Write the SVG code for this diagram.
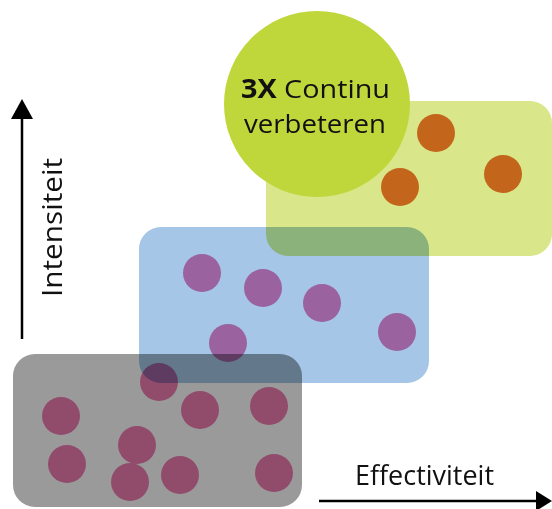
<svg xmlns="http://www.w3.org/2000/svg" width="552" height="509" viewBox="0 0 552 509">
<style>
.mul{mix-blend-mode:multiply}
.dot{fill:#f07eb1;mix-blend-mode:multiply}
.odot{fill:#c4651c}
.lbl{font-family:"Open Sans","DejaVu Sans",sans-serif;fill:#111}
.ax{stroke:#000;stroke-width:2.5;fill:none}
</style>
<defs>
<marker id="ah" markerWidth="8" markerHeight="8" refX="7" refY="4" orient="auto" markerUnits="userSpaceOnUse" viewBox="0 0 8 8">
<path d="M0,0 L8,4 L0,8 z" fill="#000"/>
</marker>
</defs>
<rect width="552" height="509" fill="#fff"/>
<g id="blue-zone">
<rect class="mul" x="139" y="227" width="290" height="156" rx="22" fill="#a5c6e6"/>
<circle class="dot" cx="202" cy="273" r="19"/>
<circle class="dot" cx="263" cy="288" r="19"/>
<circle class="dot" cx="322" cy="303" r="19"/>
<circle class="dot" cx="397" cy="332" r="19"/>
<circle class="dot" cx="228" cy="343" r="19"/>
</g>
<g id="gray-zone">
<rect class="mul" x="13" y="354" width="289" height="153" rx="22" fill="#9a9a9b"/>
<circle class="dot" cx="61" cy="416" r="19"/>
<circle class="dot" cx="67" cy="464" r="19"/>
<circle class="dot" cx="159" cy="382" r="19"/>
<circle class="dot" cx="200" cy="410" r="19"/>
<circle class="dot" cx="269" cy="406" r="19"/>
<circle class="dot" cx="137" cy="445" r="19"/>
<circle class="dot" cx="130" cy="482" r="19"/>
<circle class="dot" cx="180" cy="475" r="19"/>
<circle class="dot" cx="274" cy="473" r="19"/>
</g>
<g id="green-zone">
<rect class="mul" x="266" y="101" width="286" height="155" rx="22" fill="#d9e68a"/>
<circle class="odot" cx="436" cy="133" r="19"/>
<circle class="odot" cx="503" cy="174" r="19"/>
<circle class="odot" cx="400" cy="187" r="19"/>
</g>
<g id="title-circle">
<circle cx="317" cy="104" r="93" fill="#c0d73c"/>
<text class="lbl" x="241" y="98" font-size="26" textLength="149" lengthAdjust="spacingAndGlyphs"><tspan font-weight="bold">3X</tspan> Continu</text>
<text class="lbl" x="244" y="133" font-size="26" textLength="142" lengthAdjust="spacingAndGlyphs">verbeteren</text>
</g>
<g id="connectors">
<line class="ax" x1="22" y1="339" x2="22" y2="118"/>
<path d="M22,99 L33,119 L11,119 z" fill="#000"/>
<line class="ax" x1="319" y1="501" x2="537" y2="501"/>
<path d="M552,501 L536,491 L536,511 z" fill="#000"/>
</g>
<g id="axis-labels">
<text class="lbl" transform="translate(62,297) rotate(-90)" font-size="27" textLength="139" lengthAdjust="spacingAndGlyphs">Intensiteit</text>
<text class="lbl" x="355" y="485" font-size="27" textLength="139" lengthAdjust="spacingAndGlyphs">Effectiviteit</text>
</g>
</svg>
